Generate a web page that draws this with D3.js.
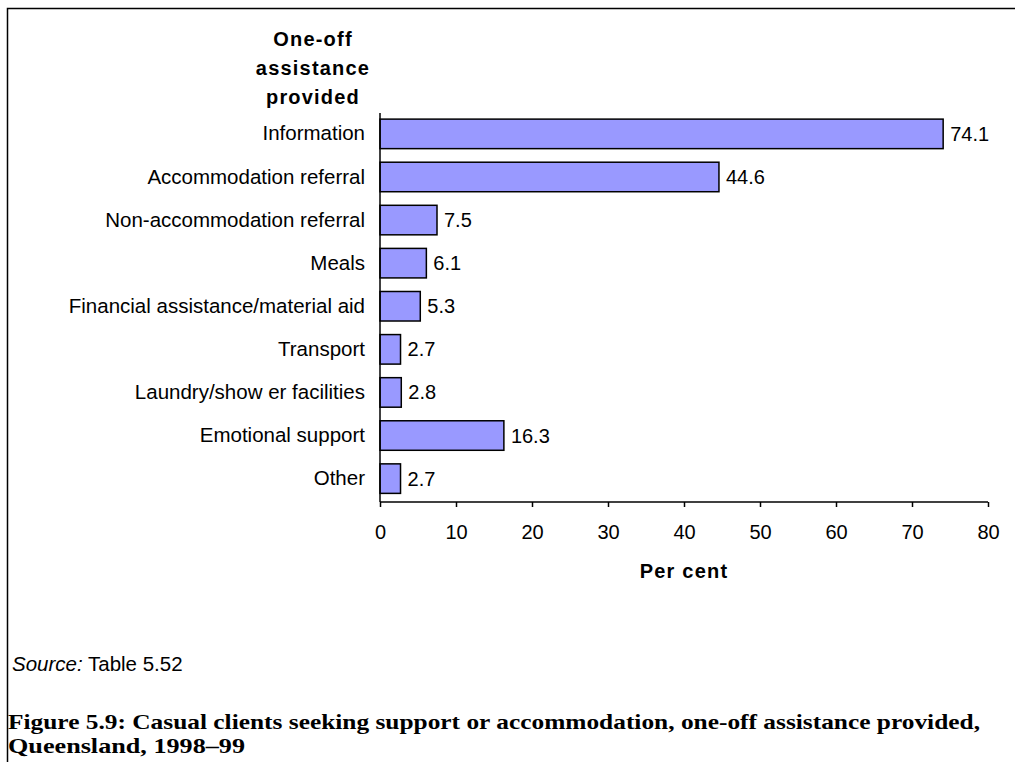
<!DOCTYPE html>
<html><head><meta charset="utf-8">
<script src="https://cdn.jsdelivr.net/npm/d3@7"></script>
<style>body{margin:0;background:#fff}svg{display:block}</style>
</head><body>
<svg id="c" width="1015" height="762"></svg>
<script>
const categories = ["Information","Accommodation referral","Non-accommodation referral","Meals","Financial assistance/material aid","Transport","Laundry/show er facilities","Emotional support","Other"];
const values = [74.1,44.6,7.5,6.1,5.3,2.7,2.8,16.3,2.7];
const xTicks = [0,10,20,30,40,50,60,70,80];
const titleLines = ["One-off","assistance","provided"];
const captionLines = ["Figure 5.9: Casual clients seeking support or accommodation, one-off assistance provided,","Queensland, 1998\u201399"];

const svg = d3.select("#c");
const sans = "'Liberation Sans', Arial, sans-serif";

// frame
svg.append("path").attr("d","M7.5,762 L7.5,8.5 L1015,8.5").attr("fill","none").attr("stroke","#000").attr("stroke-width",1.5);

const x = d3.scaleLinear().domain([0,80]).range([380,988]);
const y = d3.scaleBand().domain(categories).range([110.5,502]).paddingInner(0.315).paddingOuter(0.2);

// bars
svg.selectAll("rect.bar").data(values).join("rect")
  .attr("x", x(0)).attr("y",(d,i)=>y(categories[i]))
  .attr("width", d=>x(d)-x(0)).attr("height", y.bandwidth())
  .attr("fill","#9999ff").attr("stroke","#000").attr("stroke-width",1.5);

// value labels
svg.selectAll("text.val").data(values).join("text")
  .attr("x", d=>x(d)+7).attr("y",(d,i)=>y(categories[i])+y.bandwidth()/2)
  .attr("dy","0.35em").attr("font-family",sans).attr("font-size",20)
  .text(d=>d.toFixed(1));

// y axis
const ya = svg.append("g").attr("transform",`translate(${x(0)},0)`)
  .call(d3.axisLeft(y).tickSize(0).tickPadding(15));
ya.select(".domain").attr("stroke","#000").attr("stroke-width",1.5).attr("d",`M0,113V502`);
ya.selectAll("text").attr("font-family",sans).attr("font-size",20.5).attr("fill","#000");

// x axis
const xa = svg.append("g").attr("transform",`translate(0,502)`)
  .call(d3.axisBottom(x).tickValues(xTicks).tickSize(5).tickPadding(18).tickFormat(d3.format("d")));
xa.select(".domain").attr("stroke","#000").attr("stroke-width",1.5).attr("d",`M${x(0)},0H${x(80)}`);
xa.selectAll(".tick line").attr("stroke","#000").attr("stroke-width",1.5);
xa.selectAll("text").attr("font-family",sans).attr("font-size",20).attr("fill","#000");

// x title
svg.append("text").attr("x",(x(0)+x(80))/2).attr("y",578).attr("text-anchor","middle")
  .attr("font-family",sans).attr("font-size",20).attr("font-weight","bold").attr("letter-spacing","1.2px")
  .text("Per cent");

// y title
svg.selectAll("text.yt").data(titleLines).join("text")
  .attr("x",313).attr("y",(d,i)=>46+i*29).attr("text-anchor","middle")
  .attr("font-family",sans).attr("font-size",20).attr("font-weight","bold").attr("letter-spacing","1.2px")
  .text(d=>d);

// source
const src = svg.append("text").attr("x",12).attr("y",671).attr("font-family",sans).attr("font-size",20.5);
src.append("tspan").attr("font-style","italic").text("Source:");
src.append("tspan").text(" Table 5.52");

// caption
const capLens = [972, 237];
svg.selectAll("text.cap").data(captionLines).join("text")
  .attr("x",8).attr("y",(d,i)=>729+i*24)
  .attr("font-family","'Liberation Serif', serif").attr("font-size",22).attr("font-weight","bold")
  .attr("textLength",(d,i)=>capLens[i]).attr("lengthAdjust","spacingAndGlyphs")
  .text(d=>d);
</script>
</body></html>
